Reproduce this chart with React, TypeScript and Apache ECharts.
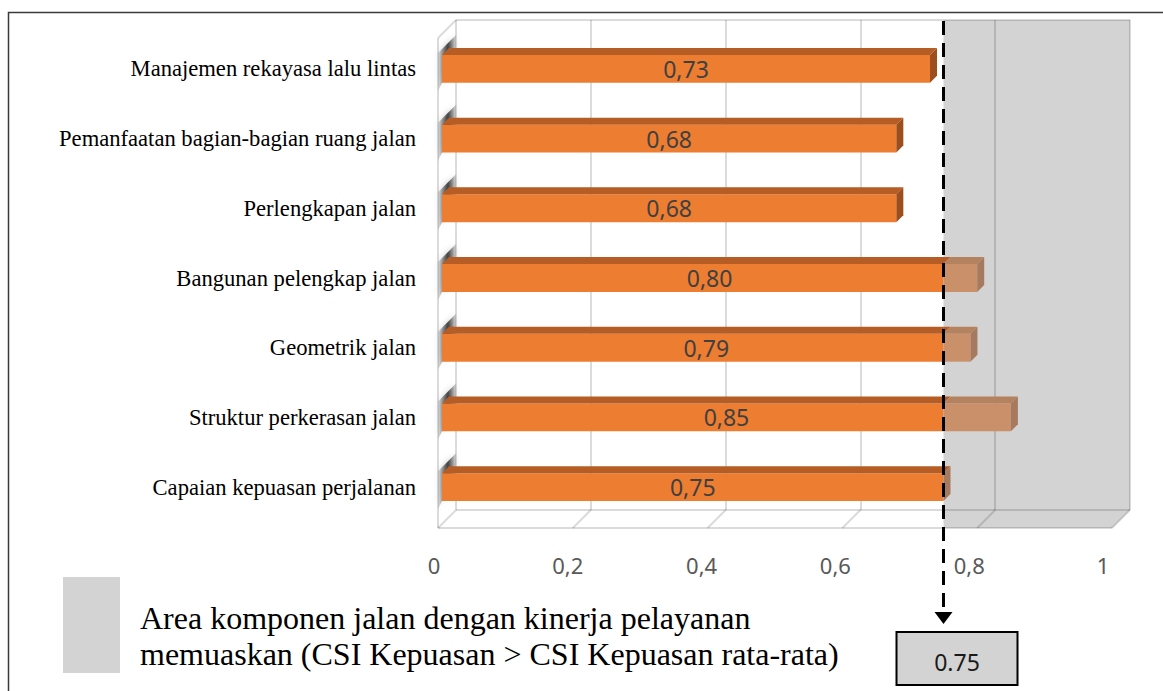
import React, { useEffect, useRef } from "react";
import * as echarts from "echarts";

// Komponen jalan dan nilai CSI kepuasan
const categories = [
  "Manajemen rekayasa lalu lintas",
  "Pemanfaatan bagian-bagian ruang jalan",
  "Perlengkapan jalan",
  "Bangunan pelengkap jalan",
  "Geometrik jalan",
  "Struktur perkerasan jalan",
  "Capaian kepuasan perjalanan",
];
const csiValues = [0.73, 0.68, 0.68, 0.8, 0.79, 0.85, 0.75];
const csiAverage = 0.75;
const axisTicks = [0, 0.2, 0.4, 0.6, 0.8, 1];
const legendLines = [
  "Area komponen jalan dengan kinerja pelayanan",
  "memuaskan (CSI Kepuasan > CSI Kepuasan rata-rata)",
];

// 3D look: the front plane sits left/below the back wall by this offset
const DEPTH_X = -18;
const DEPTH_Y = 18;
const BAR_DEPTH = 7;
const BAR_INSET = 4;

const GRID_LINE = "rgba(0,0,0,0.14)";
const ZONE_FILL = "#D3D3D3";
const ORANGE = { front: "#ED7D31", top: "#B55D24", side: "#9C4F1D" };
const TAN = { front: "#CA9069", top: "#B5825F", side: "#A57A5E" };

const decimalComma = (v: number, digits: number) =>
  v.toFixed(digits).replace(".", ",");

export default function App() {
  const ref = useRef<HTMLDivElement>(null);

  useEffect(() => {
    if (!ref.current) return;
    const chart = echarts.init(ref.current, null, { renderer: "svg" });

    const option: any = {
      animation: false,
      backgroundColor: "#ffffff",
      grid: [
        { left: 456, top: 20, width: 674, height: 490 }, // back wall
        { left: 438, top: 34, width: 674, height: 488 }, // bars (front plane)
        { left: 434, top: 527, width: 669, height: 1 }, // tick labels
      ],
      xAxis: [
        {
          gridIndex: 0,
          type: "value",
          min: 0,
          max: 1,
          interval: 0.2,
          z: 2,
          axisLine: { show: false },
          axisTick: { show: false },
          axisLabel: { show: false },
          splitLine: { show: true, lineStyle: { color: GRID_LINE, width: 2 } },
        },
        { gridIndex: 1, type: "value", min: 0, max: 1, show: false },
        {
          gridIndex: 2,
          type: "value",
          min: 0,
          max: 1,
          interval: 0.2,
          axisLine: { show: false },
          axisTick: { show: false },
          splitLine: { show: false },
          axisLabel: {
            color: "#595959",
            fontFamily: "Noto Sans",
            fontSize: 22,
            margin: 26,
            formatter: (v: number) => String(Number(v.toFixed(1))).replace(".", ","),
          },
        },
      ],
      yAxis: [
        {
          gridIndex: 0,
          type: "value",
          min: 0,
          max: 1,
          interval: 1,
          z: 2,
          axisLine: { show: false },
          axisTick: { show: false },
          axisLabel: { show: false },
          splitLine: { show: true, lineStyle: { color: GRID_LINE, width: 2 } },
        },
        {
          gridIndex: 1,
          type: "category",
          data: categories,
          inverse: true,
          axisLine: { show: false },
          axisTick: { show: false },
          splitLine: { show: false },
          axisLabel: {
            color: "#000000",
            fontFamily: "Liberation Serif",
            fontSize: 22.6,
            margin: 22,
            padding: [18, 0, 0, 0],
          },
        },
        { gridIndex: 2, type: "value", show: false },
      ],
      series: [
        {
          // grey area: components above the average CSI
          type: "custom",
          name: "zone",
          xAxisIndex: 0,
          yAxisIndex: 0,
          z: 1,
          silent: true,
          data: [[csiAverage]],
          renderItem: (_p: any, api: any) => {
            const avg = api.value(0);
            const topRight = api.coord([1, 1]);
            const botRight = api.coord([1, 0]);
            const xa = api.coord([avg, 0])[0] + DEPTH_X;
            return {
              type: "polygon",
              shape: {
                points: [
                  [xa, topRight[1]],
                  topRight,
                  botRight,
                  [botRight[0] + DEPTH_X, botRight[1] + DEPTH_Y],
                  [xa, botRight[1] + DEPTH_Y],
                ],
              },
              style: { fill: ZONE_FILL },
            };
          },
        },
        {
          // floor and side wall of the 3D frame
          type: "custom",
          name: "frame",
          xAxisIndex: 0,
          yAxisIndex: 0,
          z: 2,
          silent: true,
          data: axisTicks.map((t) => [t]),
          renderItem: (p: any, api: any) => {
            const t = api.value(0);
            const back = api.coord([t, 0]);
            const lineStyle = { stroke: GRID_LINE, lineWidth: 2 };
            const children: any[] = [
              {
                type: "line",
                shape: { x1: back[0], y1: back[1], x2: back[0] + DEPTH_X, y2: back[1] + DEPTH_Y },
                style: lineStyle,
              },
            ];
            if (p.dataIndex === 0) {
              const b0 = api.coord([0, 0]);
              const b1 = api.coord([1, 0]);
              const t0 = api.coord([0, 1]);
              children.push(
                {
                  type: "line",
                  shape: { x1: b0[0] + DEPTH_X, y1: b0[1] + DEPTH_Y, x2: b1[0] + DEPTH_X, y2: b1[1] + DEPTH_Y },
                  style: lineStyle,
                },
                {
                  type: "line",
                  shape: { x1: t0[0] + DEPTH_X, y1: t0[1] + DEPTH_Y, x2: b0[0] + DEPTH_X, y2: b0[1] + DEPTH_Y },
                  style: lineStyle,
                },
                {
                  type: "line",
                  shape: { x1: t0[0] + DEPTH_X, y1: t0[1] + DEPTH_Y, x2: t0[0], y2: t0[1] },
                  style: lineStyle,
                }
              );
            }
            return { type: "group", children };
          },
        },
        {
          // 3D bars
          type: "custom",
          name: "CSI",
          xAxisIndex: 1,
          yAxisIndex: 1,
          z: 5,
          silent: true,
          data: csiValues.map((v, i) => [v, i]),
          encode: { x: 0, y: 1 },
          renderItem: (_p: any, api: any) => {
            const v = api.value(0);
            const idx = api.value(1);
            const base = api.coord([0, idx]);
            const end = api.coord([v, idx]);
            const cut = api.coord([csiAverage, idx]);
            const band = api.size([0, 1])[1];
            const h = band * 0.4;
            const yc = base[1];
            const yt = yc - h / 2;
            const yb = yc + h / 2;
            const x0 = base[0] + BAR_INSET;
            const xe = end[0];
            const xc = Math.min(cut[0], xe);
            const d = BAR_DEPTH;
            const topFace = (a: number, b: number, fill: string) => ({
              type: "polygon",
              shape: { points: [[a, yt], [a + d, yt - d], [b + d, yt - d], [b, yt]] },
              style: { fill },
            });
            const wl = base[0];
            const children: any[] = [
              {
                // shadow of the bar on the side wall
                type: "polygon",
                shape: {
                  points: [
                    [wl, yt - 2],
                    [wl - DEPTH_X, yt - 2 - DEPTH_Y],
                    [wl - DEPTH_X, yb - 10 - DEPTH_Y],
                    [wl, yb + 8],
                  ],
                },
                style: {
                  fill: new echarts.graphic.LinearGradient(0, 0, 1, 0, [
                    { offset: 0, color: "rgba(0,0,0,0.08)" },
                    { offset: 0.55, color: "rgba(0,0,0,0.7)" },
                    { offset: 1, color: "rgba(0,0,0,0.1)" },
                  ]),
                  shadowBlur: 6,
                  shadowColor: "rgba(0,0,0,0.35)",
                },
              },
              { type: "rect", shape: { x: x0, y: yt, width: xc - x0, height: h }, style: { fill: ORANGE.front } },
              topFace(x0, xc, ORANGE.top),
            ];
            if (xe > xc) {
              children.push(
                { type: "rect", shape: { x: xc, y: yt, width: xe - xc, height: h }, style: { fill: TAN.front } },
                topFace(xc, xe, TAN.top)
              );
            }
            const side = v >= csiAverage ? TAN.side : ORANGE.side;
            children.push(
              {
                type: "polygon",
                shape: { points: [[xe, yt], [xe + d, yt - d], [xe + d, yb - d], [xe, yb]] },
                style: { fill: side },
              },
              {
                type: "text",
                style: {
                  text: decimalComma(v, 2),
                  x: (x0 + xe) / 2,
                  y: yc,
                  align: "center",
                  verticalAlign: "middle",
                  fill: "#404040",
                  fontFamily: "Noto Sans",
                  fontSize: 23,
                },
              }
            );
            return { type: "group", children };
          },
        },
        {
          // average CSI marker: dashed line, arrow and value box
          type: "custom",
          name: "average",
          xAxisIndex: 0,
          yAxisIndex: 0,
          z: 10,
          silent: true,
          data: [[csiAverage]],
          renderItem: (_p: any, api: any) => {
            const avg = api.value(0);
            const top = api.coord([avg, 1]);
            const bottom = api.coord([avg, 0]);
            const xa = top[0] + DEPTH_X;
            const floorY = bottom[1] + DEPTH_Y;
            const tipY = floorY + 96;
            const boxY = floorY + 104;
            return {
              type: "group",
              children: [
                {
                  type: "line",
                  shape: { x1: xa, y1: top[1] + 1, x2: xa, y2: tipY - 11 },
                  style: { stroke: "#000", lineWidth: 3, lineDash: [14, 8] },
                },
                {
                  type: "polygon",
                  shape: { points: [[xa - 9, tipY - 12], [xa + 9, tipY - 12], [xa, tipY]] },
                  style: { fill: "#000" },
                },
                {
                  type: "rect",
                  shape: { x: xa - 47, y: boxY, width: 121, height: 53 },
                  style: { fill: ZONE_FILL, stroke: "#000", lineWidth: 2 },
                },
                {
                  type: "text",
                  style: {
                    text: String(avg),
                    x: xa + 13.5,
                    y: boxY + 30,
                    align: "center",
                    verticalAlign: "middle",
                    fill: "#1a1a1a",
                    fontFamily: "Noto Sans",
                    fontSize: 23,
                  },
                },
              ],
            };
          },
        },
      ],
      graphic: [
        {
          type: "polyline",
          shape: { points: [[8.5, 691], [8.5, 12.5], [1163, 12.5]] },
          style: { stroke: "#3a3a3a", lineWidth: 1.5, fill: "none" },
          silent: true,
        },
        {
          type: "rect",
          shape: { x: 63, y: 577, width: 57, height: 96 },
          style: { fill: ZONE_FILL },
          silent: true,
        },
        ...legendLines.map((line, i) => ({
          type: "text",
          x: 140,
          y: 618 + i * 36,
          style: {
            text: line,
            fill: "#000",
            fontFamily: "Liberation Serif",
            fontSize: 32,
            verticalAlign: "middle",
          },
          silent: true,
        })),
      ],
    };

    chart.setOption(option);
    return () => chart.dispose();
  }, []);

  return (
    <div
      ref={ref}
      style={{ position: "fixed", left: 0, top: 0, width: 1163, height: 691, background: "#fff" }}
    />
  );
}
